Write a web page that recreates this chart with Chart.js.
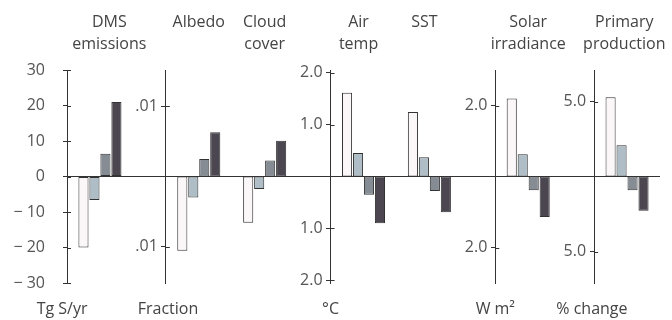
<!DOCTYPE html>
<html>
<head>
<meta charset="UTF-8">
<title>Responses by variable</title>
<style>
  body { margin: 0; background: #fff; }
  #wrap { width: 672px; height: 320px; }
</style>
</head>
<body>
<div id="wrap"><canvas id="chart" width="672" height="320"></canvas></div>
<script src="https://cdn.jsdelivr.net/npm/chart.js"></script>
<script>
// titles over each group of bars, and units under each axis
const groupTitles = [['DMS', 'emissions'], 'Albedo', ['Cloud', 'cover'], ['Air', 'temp'], 'SST', ['Solar', 'irradiance'], ['Primary', 'production']];
const unitLabels = ['Tg S/yr', 'Fraction', '°C', 'W m²', '% change'];

// four bars per group, left to right
const dmsValues = [-20, -6.6, 6.4, 21];
const albedoValues = [-0.0106, -0.003, 0.0025, 0.0063];
const cloudValues = [-0.0066, -0.0018, 0.0023, 0.0051];
const airTempValues = [1.61, 0.45, -0.35, -0.9];
const sstValues = [1.24, 0.37, -0.28, -0.69];
const solarValues = [2.2, 0.63, -0.39, -1.14];
const primaryValues = [5.29, 2.09, -0.91, -2.29];

// tick values and what is printed next to them
const dmsTicks = [30, 20, 10, 0, -10, -20, -30];
const dmsTickLabels = ['30', '20', '10', '0', '\u2212 10', '\u2212 20', '\u2212 30'];
const albedoTicks = [0.01, -0.01];
const albedoTickLabels = ['.01', '.01'];
const tempTicks = [2, 1, -1, -2];
const tempTickLabels = ['2.0', '1.0', '1.0', '2.0'];
const solarTicks = [2, -2];
const solarTickLabels = ['2.0', '2.0'];
const primaryTicks = [5, -5];
const primaryTickLabels = ['5.0', '5.0'];

// layout: the x axis is a row of bar slots
const SLOTS = 54;
const groupStart = [1, 10, 16, 25, 31, 40, 49];
const titleShift = [0.85, 0, 0, -0.45, -0.45, 0, -0.25];
const groupAxis = ['yDms', 'yAlb', 'yAlb', 'yTemp', 'yTemp', 'ySol', 'yPri'];
const axisSlot = [-0.5, 8.5, 23.5, 38.5, 47.5];
const unitShift = [-0.45, 0.2, 0, 0, -0.2];
const barColors = ['#fbf6f8', '#aebdc6', '#868c93', '#4b4650'];

const groupValues = [dmsValues, albedoValues, cloudValues, airTempValues, sstValues, solarValues, primaryValues];

const datasets = groupValues.map((vals, g) => {
    const data = new Array(SLOTS).fill(null);
    vals.forEach((v, i) => { data[groupStart[g] + i] = v; });
    return {
        label: [].concat(groupTitles[g]).join(' '),
        data: data,
        yAxisID: groupAxis[g],
        backgroundColor: c => barColors[c.dataIndex - groupStart[g]],
        borderColor: '#333',
        borderWidth: 1,
        borderSkipped: false,
        barPercentage: 0.92,
        categoryPercentage: 1,
        grouped: false
    };
});

const labelFont = { family: "'Open Sans', sans-serif", size: 16, lineHeight: 1.375 };

// axes placed inside the plot ignore ticks.padding, so an en space keeps the label off the tick
function yAxis(min, max, ticks, labels, slot) {
    const inner = slot !== null;
    return {
        min: min,
        max: max,
        position: inner ? { x: slot } : 'left',
        afterBuildTicks: s => { s.ticks = ticks.map(v => ({ value: v })); },
        ticks: {
            callback: (v, i) => inner ? labels[i] + '\u2002' : labels[i],
            color: '#555', font: labelFont, padding: 18
        },
        grid: { drawOnChartArea: false, tickLength: 4, tickColor: '#333' },
        border: { color: '#333', width: 1 }
    };
}

const yDms = yAxis(-30, 30, dmsTicks, dmsTickLabels, null);
yDms.afterFit = s => { s.width = 67; };
yDms.grid = {
    drawOnChartArea: true,
    color: c => (c.tick && c.tick.value === 0) ? '#333' : 'rgba(0,0,0,0)',
    tickLength: 4,
    tickColor: '#333'
};

// short marks on the right side of each axis so ticks cross it
const crossTicks = {
    id: 'crossTicks',
    afterDraw(chart) {
        const ctx = chart.ctx;
        ctx.save();
        ctx.strokeStyle = '#333';
        ctx.lineWidth = 1;
        Object.values(chart.scales).forEach(s => {
            if (s.axis !== 'y') return;
            const pos = s.options.position;
            const x = typeof pos === 'object' ? chart.scales.x.getPixelForValue(pos.x) : s.right;
            s.ticks.forEach(t => {
                const y = Math.round(s.getPixelForValue(t.value)) + 0.5;
                ctx.beginPath();
                ctx.moveTo(x, y);
                ctx.lineTo(x + 4, y);
                ctx.stroke();
            });
        });
        ctx.restore();
    }
};

new Chart(document.getElementById('chart'), {
    type: 'bar',
    data: {
        labels: Array.from({ length: SLOTS }, (_, i) => String(i)),
        datasets: datasets
    },
    options: {
        responsive: false,
        animation: false,
        layout: { padding: { left: 0, right: 12, top: 11, bottom: 0 } },
        plugins: { legend: { display: false }, tooltip: { enabled: false } },
        scales: {
            x: { display: false, offset: true },
            xTop: {
                type: 'category',
                position: 'top',
                offset: true,
                afterBuildTicks: s => { s.ticks = groupStart.map((v, i) => ({ value: v + 1.5 + titleShift[i] })); },
                afterFit: s => { s.height = 59; s.paddingLeft = 0; s.paddingRight = 0; },
                ticks: {
                    callback: (v, i) => groupTitles[i],
                    color: '#444', font: labelFont, padding: 15,
                    autoSkip: false, maxRotation: 0, minRotation: 0, crossAlign: 'far'
                },
                grid: { display: false, drawTicks: false },
                border: { display: false }
            },
            xBottom: {
                type: 'category',
                position: 'bottom',
                offset: true,
                afterBuildTicks: s => { s.ticks = axisSlot.map((v, i) => ({ value: v + unitShift[i] })); },
                afterFit: s => { s.height = 37; s.paddingLeft = 0; s.paddingRight = 0; },
                ticks: {
                    callback: (v, i) => unitLabels[i],
                    color: '#444', font: labelFont, padding: 15,
                    autoSkip: false, maxRotation: 0, minRotation: 0
                },
                grid: { display: false, drawTicks: false },
                border: { display: false }
            },
            yDms: yDms,
            yAlb: yAxis(-0.0152, 0.0152, albedoTicks, albedoTickLabels, axisSlot[1]),
            yTemp: yAxis(-2.05, 2.05, tempTicks, tempTickLabels, axisSlot[2]),
            ySol: yAxis(-3.0, 3.0, solarTicks, solarTickLabels, axisSlot[3]),
            yPri: yAxis(-7.1, 7.1, primaryTicks, primaryTickLabels, axisSlot[4])
        }
    },
    plugins: [crossTicks]
});
</script>
</body>
</html>
